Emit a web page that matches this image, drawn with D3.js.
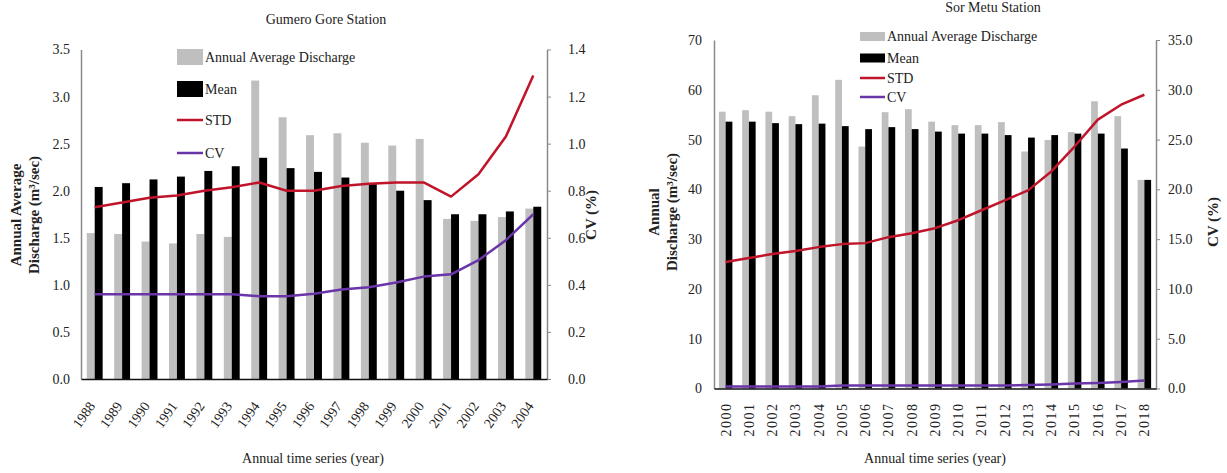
<!DOCTYPE html>
<html>
<head>
<meta charset="utf-8">
<script src="https://cdn.jsdelivr.net/npm/d3@7"></script>
<style>
  html, body { margin: 0; padding: 0; background: #fff; }
  svg { display: block; }
  text { font-family: "Liberation Serif", "Times New Roman", serif; fill: #222; }
</style>
</head>
<body>
<svg id="chart" width="1227" height="473"></svg>
<script>
// ---------- Data: Gumero Gore Station ----------
const gYears = ["1988","1989","1990","1991","1992","1993","1994","1995","1996","1997","1998","1999","2000","2001","2002","2003","2004"];
const gAnnual = [1.55,1.54,1.46,1.44,1.54,1.51,3.17,2.78,2.59,2.61,2.51,2.48,2.55,1.70,1.68,1.72,1.81];
const gMean   = [2.04,2.08,2.12,2.15,2.21,2.26,2.35,2.24,2.20,2.14,2.07,2.00,1.90,1.75,1.75,1.78,1.83];
const gSTD    = [0.73,0.75,0.77,0.78,0.80,0.815,0.835,0.80,0.80,0.82,0.83,0.835,0.835,0.775,0.87,1.03,1.29];
const gCV     = [0.36,0.36,0.36,0.36,0.36,0.36,0.352,0.352,0.362,0.38,0.39,0.41,0.435,0.445,0.505,0.59,0.70];
const gLeftTicks  = [0,0.5,1.0,1.5,2.0,2.5,3.0,3.5];
const gRightTicks = [0,0.2,0.4,0.6,0.8,1.0,1.2,1.4];

// ---------- Data: Sor Metu Station ----------
const sYears = ["2000","2001","2002","2003","2004","2005","2006","2007","2008","2009","2010","2011","2012","2013","2014","2015","2016","2017","2018"];
const sAnnual = [55.6,55.9,55.6,54.7,58.9,62.0,48.6,55.5,56.1,53.6,52.9,52.9,53.5,47.6,49.9,51.5,57.7,54.7,41.9];
const sMean   = [53.6,53.6,53.3,53.1,53.2,52.7,52.1,52.5,52.1,51.6,51.2,51.2,50.9,50.4,50.9,51.2,51.2,48.2,41.9];
const sSTD    = [12.7,13.1,13.5,13.8,14.2,14.5,14.6,15.2,15.6,16.1,16.9,17.9,18.9,19.9,21.8,24.3,27.0,28.5,29.5];
const sCV     = [0.2,0.2,0.2,0.2,0.2,0.3,0.3,0.3,0.3,0.3,0.3,0.3,0.3,0.35,0.4,0.5,0.55,0.65,0.8];
const sLeftTicks  = [0,10,20,30,40,50,60,70];
const sRightTicks = [0,5,10,15,20,25,30,35];

const legendNames = ["Annual Average Discharge","Mean","STD","CV"];

const COL_GRAY = "#bfbfbf", COL_BLACK = "#000000", COL_RED = "#c0142a", COL_PURPLE = "#6a35a8";

const svg = d3.select("#chart");
svg.append("rect").attr("width",1227).attr("height",473).attr("fill","#fff");

function panel(cfg) {
  const g = svg.append("g");
  const x = d3.scaleBand().domain(cfg.cats).range([cfg.x0, cfg.x1]).padding(0);
  const yL = d3.scaleLinear().domain(cfg.leftDomain).range([cfg.yBot, cfg.yTop]);
  const yR = d3.scaleLinear().domain(cfg.rightDomain).range([cfg.yBot, cfg.yTop]);
  const bw = x.bandwidth() * 0.29;
  const cx = d => x(d) + x.bandwidth()/2;

  // bars
  g.selectAll(".ga").data(cfg.cats).join("rect")
    .attr("x", d => cx(d) - bw).attr("width", bw)
    .attr("y", (d,i) => yL(cfg.annual[i])).attr("height", (d,i) => yL(0) - yL(cfg.annual[i]))
    .attr("fill", COL_GRAY);
  g.selectAll(".gm").data(cfg.cats).join("rect")
    .attr("x", d => cx(d)).attr("width", bw)
    .attr("y", (d,i) => yL(cfg.mean[i])).attr("height", (d,i) => yL(0) - yL(cfg.mean[i]))
    .attr("fill", COL_BLACK);

  // lines
  const line = d3.line().x((d,i) => cx(cfg.cats[i])).y(d => yR(d));
  g.append("path").datum(cfg.std).attr("d", line).attr("fill","none")
    .attr("stroke", COL_RED).attr("stroke-width", 2.5).attr("stroke-linejoin","round");
  g.append("path").datum(cfg.cv).attr("d", line).attr("fill","none")
    .attr("stroke", COL_PURPLE).attr("stroke-width", 2.5).attr("stroke-linejoin","round");

  // left axis
  const axL = g.append("g").attr("transform", `translate(${cfg.x0},0)`)
    .call(d3.axisLeft(yL).tickValues(cfg.leftTicks).tickFormat(d3.format(cfg.leftFmt)).tickSize(0).tickPadding(cfg.leftPad));
  axL.select(".domain").attr("stroke","#8a8a8a").attr("stroke-width",1.5);
  axL.selectAll("text").style("font-family","Liberation Serif").style("font-size","14px").attr("fill","#333");

  // right axis
  const axR = g.append("g").attr("transform", `translate(${cfg.x1},0)`)
    .call(d3.axisRight(yR).tickValues(cfg.rightTicks).tickFormat(d3.format(".1f")).tickSize(4).tickSizeOuter(0).tickPadding(cfg.rightPad));
  axR.select(".domain").attr("stroke","#8a8a8a").attr("stroke-width",1.5);
  axR.selectAll("line").attr("stroke","#8a8a8a");
  axR.selectAll("text").style("font-family","Liberation Serif").style("font-size","14px").attr("fill","#333");

  // bottom axis
  const axB = g.append("g").attr("transform", `translate(0,${cfg.yBot})`)
    .call(d3.axisBottom(x).tickSize(0).tickPadding(0));
  axB.select(".domain").attr("stroke","#111").attr("stroke-width",1.5);
  axB.selectAll("text").style("font-family","Liberation Serif").style("font-size","14px").attr("fill","#333");
  if (cfg.rot === -45) {
    axB.selectAll("text").attr("text-anchor","end").attr("dy",null).attr("y",0)
      .attr("transform","translate(1,27) rotate(-55)");
  } else {
    axB.selectAll("text").attr("text-anchor","end").attr("y",0).attr("dy","0.35em")
      .attr("transform","translate(0,14) rotate(-90)").style("letter-spacing","1.5px");
  }

  // titles
  g.append("text").attr("x", cfg.titleX).attr("y", cfg.titleY).attr("text-anchor","middle")
    .style("font-size","14px").text(cfg.title);
  g.append("text").attr("x", cfg.xTitleX).attr("y", 463).attr("text-anchor","middle")
    .style("font-size","14px").text("Annual time series (year)");
  cfg.yTitle.forEach((t,i) => {
    g.append("text").attr("transform", `translate(${cfg.yTitleX[i]},${cfg.yTitleY}) rotate(-90)`)
      .attr("text-anchor","middle").style("font-size","15px").style("font-weight","bold").text(t);
  });
  g.append("text").attr("transform", `translate(${cfg.cvTitleX},${cfg.cvTitleY}) rotate(-90)`)
    .attr("text-anchor","middle").style("font-size","15px").style("font-weight","bold").text("CV (%)");

  // legend
  const L = cfg.legend;
  legendNames.forEach((name,i) => {
    const cy = L.ys[i];
    if (i === 0) g.append("rect").attr("x",L.x).attr("y",cy-L.h/2).attr("width",L.w).attr("height",L.h).attr("fill",COL_GRAY);
    if (i === 1) g.append("rect").attr("x",L.x).attr("y",cy-L.h/2).attr("width",L.w).attr("height",L.h).attr("fill",COL_BLACK);
    if (i === 2) g.append("line").attr("x1",L.x).attr("x2",L.x+L.w).attr("y1",cy).attr("y2",cy).attr("stroke",COL_RED).attr("stroke-width",2.5);
    if (i === 3) g.append("line").attr("x1",L.x).attr("x2",L.x+L.w).attr("y1",cy).attr("y2",cy).attr("stroke",COL_PURPLE).attr("stroke-width",2.5);
    g.append("text").attr("x",L.x+L.w+2).attr("y",cy).attr("dy","0.35em").style("font-size","14px").text(name);
  });
}

panel({
  cats: gYears, annual: gAnnual, mean: gMean, std: gSTD, cv: gCV,
  x0: 81, x1: 547, yTop: 49.5, yBot: 379,
  leftDomain: [0,3.5], rightDomain: [0,1.4],
  leftTicks: gLeftTicks, rightTicks: gRightTicks, leftFmt: ".1f",
  leftPad: 11, rightPad: 17, rot: -45,
  title: "Gumero Gore Station", titleX: 326, titleY: 24,
  xTitleX: 313,
  yTitle: ["Annual Average","Discharge (m³/sec)"], yTitleX: [21, 39], yTitleY: 215,
  cvTitleX: 596, cvTitleY: 215,
  legend: { x: 177, w: 26, h: 16, ys: [57, 89, 120, 153] }
});

panel({
  cats: sYears, annual: sAnnual, mean: sMean, std: sSTD, cv: sCV,
  x0: 714, x1: 1156, yTop: 40, yBot: 388.5,
  leftDomain: [0,70], rightDomain: [0,35],
  leftTicks: sLeftTicks, rightTicks: sRightTicks, leftFmt: "d",
  leftPad: 12, rightPad: 8, rot: -90,
  title: "Sor Metu Station", titleX: 993, titleY: 12,
  xTitleX: 935,
  yTitle: ["Annual","Discharge (m³/sec)"], yTitleX: [659, 677], yTitleY: 212,
  cvTitleX: 1218, cvTitleY: 222,
  legend: { x: 860, w: 25, h: 9, ys: [36.5, 58, 78, 97] }
});
</script>
</body>
</html>
